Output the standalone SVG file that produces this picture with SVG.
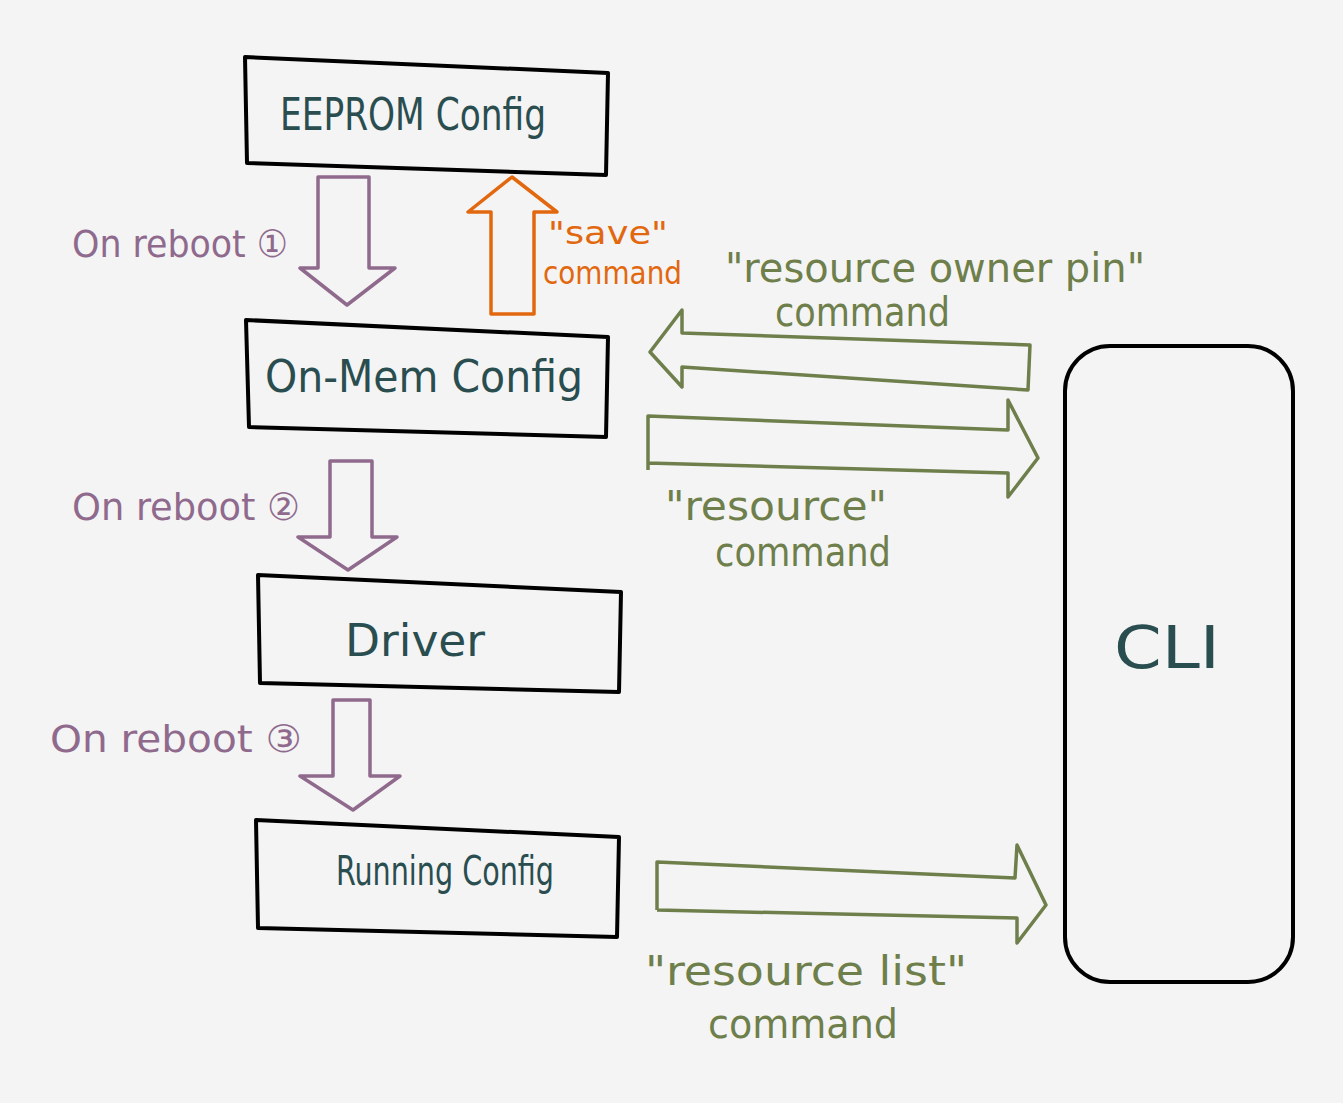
<svg xmlns="http://www.w3.org/2000/svg" width="1343" height="1103" viewBox="0 0 1343 1103">
<style>
.box{fill:none;stroke:#000;stroke-width:4;stroke-linejoin:round}
.arP{fill:none;stroke:#8f6a8d;stroke-width:3.5;stroke-linejoin:round}
.arO{fill:none;stroke:#e2680f;stroke-width:3.5;stroke-linejoin:round}
.arG{fill:none;stroke:#6e7f4b;stroke-width:3.5;stroke-linejoin:round}
.nl{font-family:"DejaVu Sans Condensed","Liberation Sans",sans-serif;fill:#2a4e50}
.pl{font-family:"DejaVu Sans Condensed","Liberation Sans",sans-serif;fill:#8f6a8d;font-size:38px}
.ol{font-family:"DejaVu Sans Condensed","Liberation Sans",sans-serif;fill:#e2680f;font-size:32px}
.gl{font-family:"DejaVu Sans Condensed","Liberation Sans",sans-serif;fill:#6e7f4b;font-size:40px}
</style>
<rect width="1343" height="1103" fill="#f4f4f4"/>
<g id="eeprom">
<path class="box" d="M245,57 L608,73 L606,175 L247,163 Z"/>
<text class="nl" x="280" y="130" font-size="44" textLength="266" lengthAdjust="spacingAndGlyphs">EEPROM Config</text>
</g>
<g id="onmem">
<path class="box" d="M246,320 L608,337 L606,437 L249,427 Z"/>
<text class="nl" x="265" y="392" font-size="44" textLength="318" lengthAdjust="spacingAndGlyphs">On-Mem Config</text>
</g>
<g id="driver">
<path class="box" d="M258,575 L621,592 L619,692 L260,683 Z"/>
<text class="nl" x="345" y="656" font-size="44" textLength="140" lengthAdjust="spacingAndGlyphs">Driver</text>
</g>
<g id="running">
<path class="box" d="M256,820 L619,837 L617,937 L258,928 Z"/>
<text class="nl" x="336" y="885" font-size="40" textLength="218" lengthAdjust="spacingAndGlyphs">Running Config</text>
</g>
<g id="cli">
<rect class="box" x="1065" y="346" width="228" height="636" rx="45"/>
<text class="nl" x="1114" y="668" font-size="58" textLength="106" lengthAdjust="spacingAndGlyphs">CLI</text>
</g>
<g id="connectors">
<path class="arP" d="M318,177 L369,177 L369,268 L395,268 L347,305 L300,268 L318,268 Z"/>
<path class="arO" d="M491,314 L534,314 L534,212 L557,212 L512,177 L468,212 L491,212 Z"/>
<path class="arP" d="M330,461 L372,461 L372,537 L397,537 L348,570 L298,537 L330,537 Z"/>
<path class="arP" d="M333,700 L370,700 L370,776 L400,776 L353,810 L300,776 L333,776 Z"/>
<path class="arG" d="M1030,345 L682,333 L682,310 L650,352 L682,387 L682,367 L1028,390 Z"/>
<path class="arG" d="M648,470 L648,416 L1008,430 L1008,400 L1038,458 L1008,497 L1008,473 L648,463"/>
<path class="arG" d="M657,910 L657,862 L1015,878 L1017,845 L1046,905 L1017,943 L1017,918 L657,910"/>
</g>
<g id="labels">
<text class="pl" x="72" y="257" textLength="216" lengthAdjust="spacingAndGlyphs">On reboot ①</text>
<text class="pl" x="72" y="520" textLength="228" lengthAdjust="spacingAndGlyphs">On reboot ②</text>
<text class="pl" x="50" y="752" font-size="42" textLength="252" lengthAdjust="spacingAndGlyphs">On reboot ③</text>
<text class="ol" x="548" y="244" font-size="34" textLength="120" lengthAdjust="spacingAndGlyphs">"save"</text>
<text class="ol" x="543" y="284" textLength="139" lengthAdjust="spacingAndGlyphs">command</text>
<text class="gl" x="725" y="282" textLength="420" lengthAdjust="spacingAndGlyphs">"resource owner pin"</text>
<text class="gl" x="775" y="326" font-size="34" textLength="175" lengthAdjust="spacingAndGlyphs">command</text>
<text class="gl" x="665" y="520" font-size="44" textLength="222" lengthAdjust="spacingAndGlyphs">"resource"</text>
<text class="gl" x="715" y="566" font-size="38" textLength="176" lengthAdjust="spacingAndGlyphs">command</text>
<text class="gl" x="645" y="985" textLength="322" lengthAdjust="spacingAndGlyphs">"resource list"</text>
<text class="gl" x="708" y="1038" font-size="38" textLength="190" lengthAdjust="spacingAndGlyphs">command</text>
</g>
</svg>
